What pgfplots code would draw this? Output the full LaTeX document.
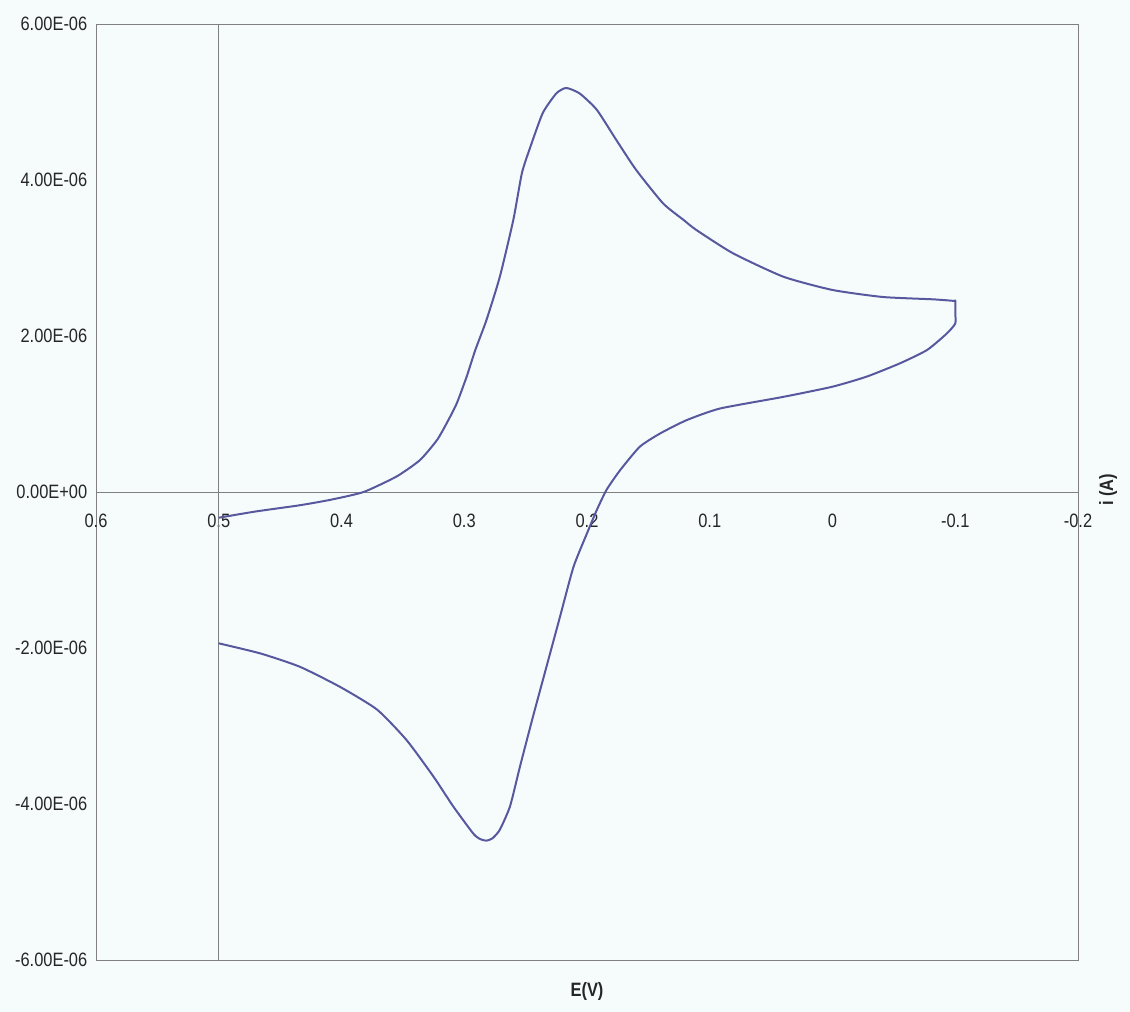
\documentclass[border=0pt]{standalone}
\usepackage{pgfplots}
\pgfplotsset{compat=1.18}
\usepackage{fontspec}
\setmainfont{Liberation Sans}
\newfontfamily\cond[FakeStretch=0.85]{Liberation Sans}
\definecolor{bgc}{RGB}{246,252,252}
\definecolor{curve}{RGB}{88,88,158}
\definecolor{axc}{RGB}{128,128,128}
\begin{document}
\begin{tikzpicture}
\fill[bgc] (0,0) rectangle (847.5pt,759pt);
\useasboundingbox (0,0) rectangle (847.5pt,759pt);
\begin{axis}[
  at={(72pt,39pt)}, anchor=south west,
  width=736.5pt, height=702pt, scale only axis,
  x dir=reverse,
  xmin=-0.2, xmax=0.6, ymin=-6e-6, ymax=6e-6,
  axis line style={draw=axc, line width=0.6pt},
  xtick={-0.2,-0.1,0,0.1,0.2,0.3,0.4,0.5,0.6},
  xticklabels={-0.2,-0.1,0,0.1,0.2,0.3,0.4,0.5,0.6},
  ytick={-6e-6,-4e-6,-2e-6,0,2e-6,4e-6,6e-6},
  yticklabels={-6.00E-06,-4.00E-06,-2.00E-06,0.00E+00,2.00E-06,4.00E-06,6.00E-06},
  major tick length=0pt,
  tick label style={font=\cond\fontsize{14.5}{16}\selectfont, text=black!85},
  xticklabel style={yshift=338pt},
  yticklabel style={xshift=-3pt},
  clip=false,
]
\draw[axc, line width=0.6pt] (axis cs:0.6,0) -- (axis cs:-0.2,0);
\draw[axc, line width=0.6pt] (axis cs:0.5,-6e-6) -- (axis cs:0.5,6e-6);
\addplot[curve, line width=1.5pt, line join=round, smooth, tension=0.35] coordinates {
(0.500,-0.33e-6) (0.470,-0.25e-6) (0.434,-0.17e-6) (0.409,-0.10e-6)
(0.382,0.00e-6) (0.355,0.20e-6) (0.336,0.41e-6) (0.322,0.67e-6)
(0.313,0.92e-6) (0.306,1.14e-6) (0.298,1.48e-6) (0.291,1.82e-6)
(0.282,2.20e-6) (0.271,2.76e-6) (0.260,3.49e-6) (0.253,4.09e-6)
(0.246,4.43e-6) (0.236,4.86e-6) (0.225,5.11e-6) (0.217,5.18e-6)
(0.206,5.11e-6) (0.192,4.90e-6) (0.176,4.51e-6) (0.160,4.13e-6)
(0.138,3.70e-6) (0.1215,3.49e-6) (0.111,3.36e-6) (0.081,3.06e-6)
(0.040,2.76e-6) (0.000,2.59e-6) (-0.041,2.50e-6) (-0.082,2.47e-6)
(-0.099,2.45e-6) (-0.100,2.45e-6) (-0.100,2.30e-6) (-0.100,2.16e-6)
(-0.093,2.03e-6) (-0.077,1.82e-6) (-0.055,1.65e-6) (-0.028,1.48e-6)
(0.000,1.35e-6) (0.040,1.22e-6) (0.0917,1.07e-6) (0.119,0.92e-6)
(0.1405,0.75e-6) (0.157,0.58e-6) (0.173,0.28e-6) (0.184,0.03e-6)
(0.192,-0.23e-6) (0.200,-0.53e-6) (0.211,-0.96e-6)
(0.222,-1.60e-6) (0.233,-2.24e-6) (0.244,-2.88e-6) (0.2546,-3.52e-6)
(0.2627,-4.03e-6) (0.271,-4.33e-6) (0.277,-4.44e-6) (0.282,-4.47e-6)
(0.287,-4.45e-6) (0.2926,-4.38e-6) (0.309,-4.03e-6) (0.325,-3.65e-6)
(0.347,-3.18e-6) (0.371,-2.79e-6) (0.401,-2.50e-6) (0.434,-2.24e-6)
(0.466,-2.07e-6) (0.500,-1.94e-6)
};
\end{axis}
\node[font=\bfseries\cond\fontsize{14.5}{16}\selectfont, text=black!85] at (440.25pt,15pt) {E(V)};
\node[font=\bfseries\cond\fontsize{14.5}{16}\selectfont, text=black!85, rotate=90] at (831pt,391.5pt) {i (A)};
\end{tikzpicture}
\end{document}
